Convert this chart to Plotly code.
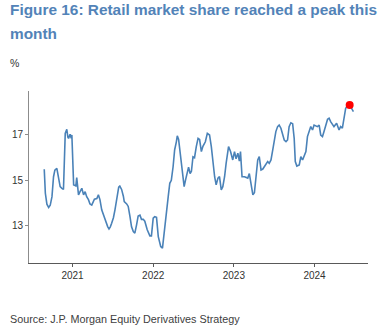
import plotly.graph_objects as go

dates = [
    "2020-08-26", "2020-08-31", "2020-09-07", "2020-09-15", "2020-09-22", "2020-09-30",
    "2020-10-07", "2020-10-13", "2020-10-22", "2020-10-30", "2020-11-06", "2020-11-14",
    "2020-11-21", "2020-11-29", "2020-12-06", "2020-12-11", "2020-12-14", "2020-12-21",
    "2020-12-26", "2020-12-29", "2021-01-02", "2021-01-06", "2021-01-11", "2021-01-16",
    "2021-01-20", "2021-01-28", "2021-02-04", "2021-02-12", "2021-02-20", "2021-02-27",
    "2021-03-06", "2021-03-14", "2021-03-21", "2021-03-29", "2021-04-10", "2021-04-21",
    "2021-04-28", "2021-05-05", "2021-05-13", "2021-05-21", "2021-05-28", "2021-06-05",
    "2021-06-09", "2021-06-15", "2021-06-21", "2021-06-27", "2021-07-05", "2021-07-12",
    "2021-07-20", "2021-07-24", "2021-07-29", "2021-08-03", "2021-08-11", "2021-08-19",
    "2021-08-23", "2021-09-03", "2021-09-10", "2021-09-18", "2021-09-25", "2021-10-03",
    "2021-10-10", "2021-10-18", "2021-10-25", "2021-11-02", "2021-11-09", "2021-11-17",
    "2021-11-24", "2021-12-05", "2021-12-17", "2021-12-24", "2022-01-01", "2022-01-08",
    "2022-01-16", "2022-01-24", "2022-02-04", "2022-02-12", "2022-02-22", "2022-03-02",
    "2022-03-10", "2022-03-17", "2022-03-24", "2022-04-01", "2022-04-08", "2022-04-16",
    "2022-04-20", "2022-04-26", "2022-05-01", "2022-05-08", "2022-05-16", "2022-05-21",
    "2022-05-27", "2022-06-05", "2022-06-10", "2022-06-17", "2022-06-23", "2022-06-30",
    "2022-07-07", "2022-07-15", "2022-07-23", "2022-07-30", "2022-08-07", "2022-08-14",
    "2022-08-25", "2022-09-03", "2022-09-13", "2022-09-21", "2022-09-28", "2022-10-06",
    "2022-10-13", "2022-10-21", "2022-10-28", "2022-11-05", "2022-11-12", "2022-11-20",
    "2022-11-27", "2022-12-08", "2022-12-17", "2022-12-27", "2023-01-04", "2023-01-11",
    "2023-01-19", "2023-01-26", "2023-01-31", "2023-02-07", "2023-02-18", "2023-03-05",
    "2023-03-12", "2023-03-20", "2023-03-28", "2023-04-04", "2023-04-11", "2023-04-19",
    "2023-04-26", "2023-05-04", "2023-05-12", "2023-05-19", "2023-05-26", "2023-06-03",
    "2023-06-10", "2023-06-18", "2023-06-26", "2023-07-03", "2023-07-10", "2023-07-18",
    "2023-07-25", "2023-08-02", "2023-08-10", "2023-08-17", "2023-08-25", "2023-09-01",
    "2023-09-08", "2023-09-16", "2023-09-24", "2023-10-01", "2023-10-06", "2023-10-13",
    "2023-10-24", "2023-10-31", "2023-11-08", "2023-11-15", "2023-11-23", "2023-11-30",
    "2023-12-08", "2023-12-15", "2023-12-23", "2023-12-30", "2024-01-14", "2024-01-22",
    "2024-01-29", "2024-02-06", "2024-02-13", "2024-02-29", "2024-03-07", "2024-03-14",
    "2024-03-29", "2024-04-10", "2024-04-21", "2024-04-28", "2024-05-06", "2024-05-13",
    "2024-05-21", "2024-05-29", "2024-06-08", "2024-06-16", "2024-06-25",
]

retail_share = [
    15.49, 14.43, 13.95, 13.80, 13.90, 14.28,
    15.16, 15.45, 15.53, 15.16, 14.72, 14.65,
    14.60, 17.07, 17.25, 16.90, 16.85, 17.03,
    16.85, 17.00, 16.04, 14.80, 14.78, 14.75,
    15.12, 14.36, 14.50, 14.65, 14.36, 14.50,
    14.28, 14.15, 13.96, 13.91, 14.17, 14.20,
    14.36, 14.15, 13.70, 13.45, 13.26, 13.05,
    12.96, 12.86, 12.95, 13.11, 13.35, 13.70,
    14.20, 14.58, 14.70, 14.75, 14.60, 14.30,
    14.06, 13.96, 13.85, 13.40, 12.95, 12.74,
    12.67, 13.05, 13.43, 13.47, 13.28, 13.28,
    13.20, 12.82, 12.55, 12.55, 13.33, 13.40,
    13.37, 12.52, 12.08, 12.01, 12.96, 13.84,
    14.28, 14.87, 15.00, 15.60, 16.34, 16.71,
    16.96, 16.80, 16.34, 15.75, 15.16, 14.72,
    15.00, 15.46, 15.58, 15.30, 15.40, 16.04,
    16.00, 16.49, 16.85, 16.80, 16.27, 16.50,
    16.70, 17.07, 17.00, 16.49, 15.75, 15.16,
    14.80, 15.10, 15.16, 14.58, 14.72, 15.16,
    15.75, 16.49, 16.27, 15.90, 16.27, 15.95,
    16.20, 15.85, 16.27, 15.16, 15.16, 15.10,
    15.30, 14.72, 14.36, 14.45, 15.16, 15.90,
    16.05, 15.46, 15.50, 15.60, 15.75, 15.83,
    15.75, 15.90, 16.34, 16.71, 17.15, 17.37,
    17.44, 17.30, 17.07, 16.78, 16.71, 16.78,
    17.37, 17.54, 17.50, 16.85, 15.83, 15.63,
    15.68, 16.04, 15.90, 16.12, 16.27, 16.93,
    17.22, 17.37, 17.22, 17.44, 17.37, 17.44,
    17.00, 16.93, 17.15, 17.69, 17.74, 17.59,
    17.37, 17.52, 17.22, 17.37, 17.30, 17.66,
    18.18, 18.28, 18.32, 18.18, 18.03,
]

year_ticks = ["2021-01-01", "2022-01-01", "2023-01-01", "2024-01-01"]
year_labels = ["2021", "2022", "2023", "2024"]
y_ticks = [13, 15, 17]

title_lines = ["Figure 16: Retail market share reached a peak this", "month"]
unit_label = "%"
source_text = "Source: J.P. Morgan Equity Derivatives Strategy"

peak_idx = max(range(len(retail_share)), key=lambda i: retail_share[i])

W, H = 388, 334
L, R, T, B = 27, 20, 91, 71
pw, ph = W - L - R, H - T - B


def px_x(x):
    return (x - L) / pw


def px_y(y):
    return (H - B - y) / ph


fig = go.Figure()
fig.add_trace(go.Scatter(
    x=dates, y=retail_share, mode="lines",
    line=dict(color="#4A82B8", width=1.6),
    hoverinfo="skip", showlegend=False,
))
fig.add_trace(go.Scatter(
    x=[dates[peak_idx]], y=[retail_share[peak_idx]], mode="markers",
    marker=dict(color="#FF0000", size=8),
    showlegend=False,
))

title_color = "#5283B8"
ann = []
ann.append(dict(text="<b>%s</b>" % title_lines[0], x=px_x(6), y=px_y(9.5),
                xanchor="left", yanchor="middle"))
ann.append(dict(text="<b>%s</b>" % title_lines[1], x=px_x(6), y=px_y(33),
                xanchor="left", yanchor="middle"))
for a in ann:
    a.update(xref="paper", yref="paper", showarrow=False,
             font=dict(family="Liberation Sans, Arial", size=15.4, color=title_color))

ann.append(dict(text=unit_label, x=px_x(6), y=px_y(63.5), xref="paper", yref="paper",
                xanchor="left", yanchor="middle", showarrow=False,
                font=dict(family="Liberation Sans, Arial", size=10.5, color="#333333")))
ann.append(dict(text=source_text, x=px_x(6), y=px_y(319), xref="paper", yref="paper",
                xanchor="left", yanchor="middle", showarrow=False,
                font=dict(family="Liberation Sans, Arial", size=10.8, color="#404040")))

fig.update_layout(
    width=W, height=H,
    margin=dict(l=L, r=R, t=T, b=B, pad=0),
    paper_bgcolor="white", plot_bgcolor="white",
    annotations=ann,
    font=dict(family="Liberation Sans, Arial", size=10, color="#333333"),
    xaxis=dict(
        type="date", range=["2020-06-18", "2024-08-30"],
        tickvals=year_ticks, ticktext=year_labels,
        showgrid=False, zeroline=False,
        showline=True, linecolor="#595959", linewidth=1,
        ticks="outside", ticklen=3, tickcolor="#595959",
        tickfont=dict(size=10, color="#333333"),
    ),
    yaxis=dict(
        range=[11.355, 18.94], tickvals=y_ticks,
        showgrid=False, zeroline=False,
        showline=True, linecolor="#8C8C8C", linewidth=1,
        ticks="outside", ticklen=3, tickcolor="#8C8C8C",
        tickfont=dict(size=10, color="#333333"),
    ),
)

fig.write_html("out.html")
